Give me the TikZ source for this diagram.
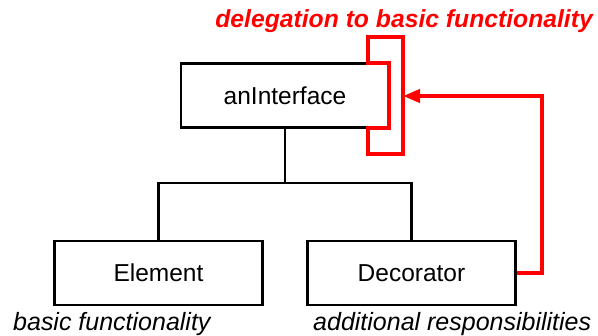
\documentclass[tikz,border=0pt]{standalone}
\usepackage{fontspec}
\setmainfont{Liberation Sans}
\usetikzlibrary{arrows.meta}

\definecolor{delegred}{RGB}{255,0,0}

\tikzset{
  classbox/.style={draw=black, line width=2.7pt, rectangle, inner sep=0pt,
    minimum width=208pt, minimum height=64pt,
    font=\fontsize{24.5}{29}\selectfont},
  treeline/.style={draw=black, line width=2.7pt},
  redline/.style={draw=delegred, line width=4pt},
  note/.style={inner sep=0pt, font=\fontsize{25}{29}\selectfont\itshape},
  rednote/.style={inner sep=0pt, text=delegred,
    font=\fontsize{24.7}{29}\selectfont\bfseries\itshape},
}

\begin{document}
\begin{tikzpicture}[x=1pt, y=-1pt]
  \useasboundingbox (0,0) rectangle (598,336);

  % class boxes
  \node[classbox] (iface) at (285,95.5) {anInterface};
  \node[classbox] (elem)  at (158.5,273) {Element};
  \node[classbox] (deco)  at (411.5,273) {Decorator};

  % inheritance tree
  \coordinate (fork) at (285,183);
  \draw[treeline] (iface.south) -- (fork);
  \draw[treeline] (elem.north) |- (fork) -| (deco.north);

  % delegation bracket around the right side of the interface
  \draw[redline, line join=miter]
    (368,63) -- (368,37) -- (403,37) -- (403,154) -- (368,154)
    -- (368,128) -- (389,128) -- (389,63) -- cycle;
  \coordinate (brk) at (403,96);

  % delegation arrow from the decorator
  \draw[redline, -{Triangle[length=17pt, width=13pt]}]
    (deco.east) -- ++(25,0) |- (brk);

  % captions
  \node[rednote, anchor=base east] (title) at (593,28)
    {delegation to basic functionality};
  \node[note, anchor=base west] (basic) at (13,331) {basic functionality};
  \node[note, anchor=base west] (addit) at (313,331) {additional responsibilities};
\end{tikzpicture}
\end{document}
